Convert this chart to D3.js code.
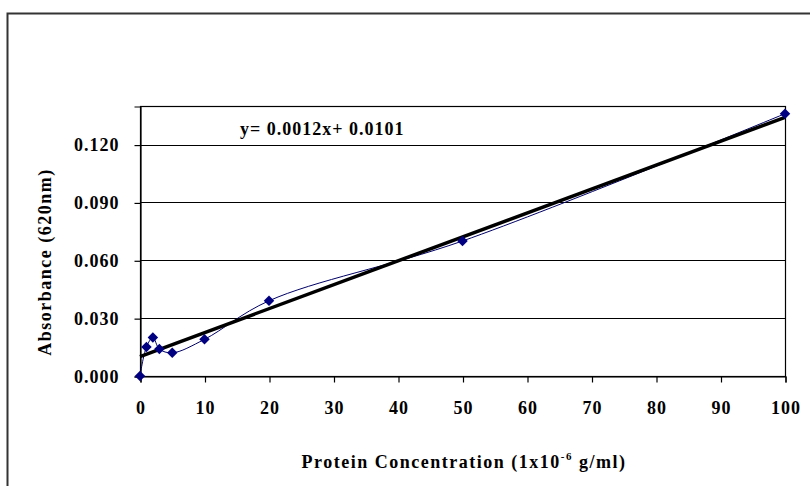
<!DOCTYPE html>
<html>
<head>
<meta charset="utf-8">
<script src="https://cdn.jsdelivr.net/npm/d3@7"></script>
<style>
  body { margin: 0; background: #fff; }
  svg text { font-family: "Liberation Serif", "Times New Roman", serif; font-weight: bold; fill: #000; letter-spacing: 1px; }
</style>
</head>
<body>
<div id="chart"></div>
<script>
// data
let concentration = [0, 1, 2, 3, 5, 10, 20, 50, 100];
let absorbance = [0.000, 0.015, 0.020, 0.014, 0.012, 0.019, 0.039, 0.070, 0.136];
let xTicks = [0, 10, 20, 30, 40, 50, 60, 70, 80, 90, 100];
let yTicks = [0, 0.03, 0.06, 0.09, 0.12];
let trendSlope = 0.00124;
let trendIntercept = 0.0101;
let equationLabel = "y= 0.0012x+ 0.0101";

let width = 810;
let height = 486;
let plotLeft = 140, plotRight = 785, plotTop = 106, plotBottom = 376;

let points = concentration.map((c, i) => ({x: c, y: absorbance[i]}));

let svg = d3.select("#chart").append("svg")
  .attr("width", width)
  .attr("height", height);

// outer chart frame (runs past the window on right and bottom)
svg.append("rect")
  .attr("x", 7.5).attr("y", 13.5)
  .attr("width", 900).attr("height", 600)
  .attr("fill", "none")
  .attr("stroke", "#333")
  .attr("stroke-width", 2);

let xScale = d3.scaleLinear().domain([0, 100]).range([plotLeft, plotRight]);
let yScale = d3.scaleLinear().domain([0, 0.14]).range([plotBottom, plotTop]);

// gridlines
svg.selectAll(".grid")
  .data(yTicks.filter(d => d > 0))
  .enter()
  .append("line")
  .attr("x1", plotLeft).attr("x2", plotRight)
  .attr("y1", d => Math.round(yScale(d)) + 0.5)
  .attr("y2", d => Math.round(yScale(d)) + 0.5)
  .attr("stroke", "#000")
  .attr("stroke-width", 1.2);

// plot border
svg.append("rect")
  .attr("x", plotLeft + 0.5).attr("y", plotTop + 0.5)
  .attr("width", plotRight - plotLeft).attr("height", plotBottom - plotTop)
  .attr("fill", "none")
  .attr("stroke", "#000")
  .attr("stroke-width", 1.2);

let xAxis = d3.axisBottom(xScale).tickValues(xTicks).tickSize(6).tickPadding(19).tickFormat(d3.format("d"));
let yAxis = d3.axisLeft(yScale).tickValues(yTicks).tickSize(6).tickPadding(15).tickFormat(d3.format(".3f"));

let gx = svg.append("g")
  .attr("transform", `translate(0.5,${plotBottom + 0.5})`)
  .call(xAxis);
let gy = svg.append("g")
  .attr("transform", `translate(${plotLeft + 0.5},0.5)`)
  .call(yAxis);
for (let g of [gx, gy]) {
  g.select(".domain").attr("stroke", "#000").attr("stroke-width", 1.2);
  g.selectAll(".tick line").attr("stroke", "#000").attr("stroke-width", 1.2);
  g.selectAll("text").style("font-size", "18px").attr("font-family", null);
}

// smoothed data line
let line = d3.line()
  .x(d => xScale(d.x))
  .y(d => yScale(d.y))
  .curve(d3.curveCatmullRom.alpha(0.5));

svg.append("path")
  .datum(points)
  .attr("d", line)
  .attr("fill", "none")
  .attr("stroke", "#000066")
  .attr("stroke-width", 1);

// linear trendline
svg.append("line")
  .attr("x1", xScale(0)).attr("y1", yScale(trendIntercept))
  .attr("x2", xScale(100)).attr("y2", yScale(trendIntercept + trendSlope * 100))
  .attr("stroke", "#000")
  .attr("stroke-width", 3.5);

// diamond markers
svg.selectAll(".pt")
  .data(points)
  .enter()
  .append("path")
  .attr("d", d3.symbol().type(d3.symbolDiamond2).size(70))
  .attr("transform", d => `translate(${xScale(d.x)},${yScale(d.y)})`)
  .attr("fill", "#000080");

// equation label
svg.append("text")
  .attr("x", 240).attr("y", 135)
  .style("font-size", "18px")
  .text(equationLabel);

// axis titles
svg.append("text")
  .attr("transform", "translate(51,262) rotate(-90)")
  .attr("text-anchor", "middle")
  .style("font-size", "18px")
  .style("letter-spacing", "1.5px")
  .text("Absorbance (620nm)");

let xt = svg.append("text")
  .attr("x", 464).attr("y", 468)
  .attr("text-anchor", "middle")
  .style("font-size", "18px")
  .style("letter-spacing", "1.5px");
xt.append("tspan").text("Protein Concentration (1x10");
xt.append("tspan").attr("dy", -8).style("font-size", "11px").text("-6");
xt.append("tspan").attr("dy", 8).text(" g/ml)");
</script>
</body>
</html>
